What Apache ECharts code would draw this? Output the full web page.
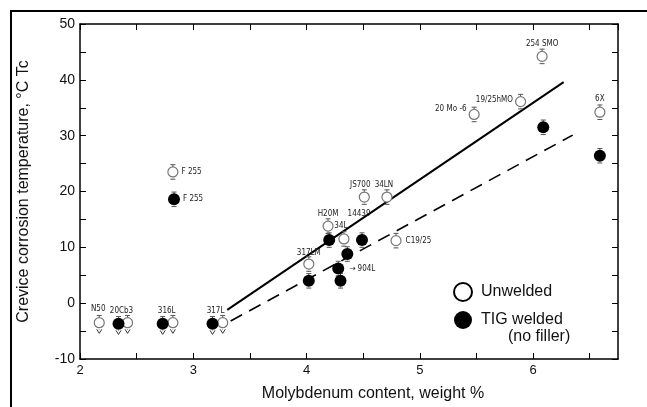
<!DOCTYPE html>
<html>
<head>
<meta charset="utf-8">
<script src="https://cdn.jsdelivr.net/npm/echarts@6/dist/echarts.min.js"></script>
<style>html,body{margin:0;padding:0;background:#fff}#c{width:647px;height:407px}</style>
</head>
<body>
<div id="c"></div>
<script>
// ---- data ----
const openNames = ['N50','20Cb3','316L','317L','F 255','317LM','H20M','34L','JS700','34LN','C19/25','20 Mo -6','19/25hMO','254 SMO','6X'];
const openMo    = [2.17, 2.42, 2.82, 3.26, 2.82, 4.02, 4.19, 4.33, 4.51, 4.71, 4.79, 5.48, 5.89, 6.08, 6.59];
const openTc    = [-3.5, -3.5, -3.5, -3.5, 23.5, 7.0, 13.8, 11.5, 19.0, 19.0, 11.2, 33.8, 36.1, 44.2, 34.2];

const tigNames = ['20Cb3','316L','317L','F 255','317LM','H20M','904L','','34L','14439','254 SMO','6X'];
const tigMo    = [2.34, 2.73, 3.17, 2.83, 4.02, 4.20, 4.28, 4.30, 4.36, 4.49, 6.09, 6.59];
const tigTc    = [-3.7, -3.7, -3.7, 18.6, 4.0, 11.3, 6.2, 4.0, 8.8, 11.3, 31.5, 26.4];

const unweldedLineMo = [3.30, 6.27];
const unweldedLineTc = [-1.2, 39.6];
const tigLineMo = [3.33, 6.35];
const tigLineTc = [-3.2, 30.1];

const errHalf = 1.3;
const xTickLabels = [2, 3, 4, 5, 6];
const yTickLabels = [-10, 0, 10, 20, 30, 40, 50];

// ---- label placement (styling) ----
const openLabelCfg = {
  'N50': {position:'top', distance:4, offset:[-1,0]},
  'F 255': {position:'right', distance:3},
  '317LM': {position:'top', distance:2},
  'H20M': {position:'top', distance:3},
  '34L': {position:'top', distance:3, offset:[-3,0]},
  'JS700': {position:'top', distance:3, offset:[-4,0]},
  '34LN': {position:'top', distance:3, offset:[-3,0]},
  'C19/25': {position:'right', distance:4},
  '20 Mo -6': {position:'left', distance:2, offset:[0,-6]},
  '19/25hMO': {position:'left', distance:2, offset:[0,-2]},
  '254 SMO': {position:'top', distance:3},
  '6X': {position:'top', distance:4}
};
const tigLabelCfg = {
  '20Cb3': {position:'top', distance:3, offset:[3,0]},
  '316L': {position:'top', distance:3, offset:[4,0]},
  '317L': {position:'top', distance:3, offset:[3,0]},
  'F 255': {position:'right', distance:3},
  '14439': {position:'top', distance:16, offset:[-3,0]},
  '904L': {position:'right', distance:5, text:'\u2192 904L'}
};
const FONT = 'Liberation Sans, Arial, sans-serif';
const NARROW = 'Liberation Sans Narrow, DejaVu Sans Condensed, Liberation Sans, sans-serif';

function mkData(names, xs, ys, cfg) {
  return names.map((n, i) => {
    const c = cfg[n];
    const item = {name: n, value: [xs[i], ys[i]]};
    if (c) {
      item.label = {show: true, position: c.position, distance: c.distance, offset: c.offset || [0,0],
        formatter: c.text || n, fontSize: 8, color: '#222', fontFamily: NARROW};
    }
    return item;
  });
}

const errData = openMo.map((x,i)=>[x, openTc[i]]).concat(tigMo.map((x,i)=>[x, tigTc[i]]));

function renderErr(params, api) {
  const x = api.value(0), y = api.value(1);
  const top = api.coord([x, y + errHalf]);
  const bot = api.coord([x, y - errHalf]);
  const st = {stroke: '#555', lineWidth: 1, lineDash: [2, 1.5]};
  const children = [
    {type:'line', shape:{x1:top[0], y1:top[1], x2:bot[0], y2:bot[1]}, style: st},
    {type:'line', shape:{x1:top[0]-2.5, y1:top[1], x2:top[0]+2.5, y2:top[1]}, style:{stroke:'#555', lineWidth:1}}
  ];
  if (y < 0) {
    const tip = api.coord([x, y - errHalf - 0.6]);
    children.push({type:'polyline', shape:{points:[[tip[0]-2.5, tip[1]-4],[tip[0], tip[1]],[tip[0]+2.5, tip[1]-4]]}, style:{stroke:'#333', lineWidth:1, fill:null}});
  } else {
    children.push({type:'line', shape:{x1:bot[0]-2.5, y1:bot[1], x2:bot[0]+2.5, y2:bot[1]}, style:{stroke:'#555', lineWidth:1}});
  }
  return {type:'group', children};
}

const axisLineStyle = {onZero: false, lineStyle: {color: '#000', width: 1.5}};
const tickStyle = {show: true, inside: true, length: 6, lineStyle: {color: '#000', width: 1}};

const chart = echarts.init(document.getElementById('c'), null, {renderer: 'canvas'});
chart.setOption({
  animation: false,
  backgroundColor: '#fff',
  textStyle: {fontFamily: FONT},
  grid: {left: 80, right: 29, top: 24, bottom: 42, containLabel: false},
  xAxis: [
    {type:'value', min:2, max:6.75, interval:0.5, position:'bottom',
     axisLine: axisLineStyle, axisTick: tickStyle, splitLine:{show:false},
     axisLabel: {fontSize: 13, color:'#111', margin: 5, fontFamily: FONT, showMaxLabel: false,
       formatter: v => xTickLabels.indexOf(v) >= 0 ? String(v) : ''},
     name: 'Molybdenum content, weight %', nameLocation: 'middle', nameGap: 27,
     nameTextStyle: {fontSize: 16, color:'#111', fontFamily: FONT, padding:[0,0,0,48]}},
    {type:'value', min:2, max:6.75, interval:0.5, position:'top',
     axisLine: axisLineStyle, axisTick: tickStyle, splitLine:{show:false}, axisLabel:{show:false}}
  ],
  yAxis: [
    {type:'value', min:-10, max:50, interval:5, position:'left',
     axisLine: axisLineStyle, axisTick: tickStyle, splitLine:{show:false},
     axisLabel: {fontSize: 14, color:'#111', margin: 5, fontFamily: FONT,
       formatter: v => yTickLabels.indexOf(v) >= 0 ? String(v) : ''},
     name: 'Crevice corrosion temperature, \u00B0C Tc', nameLocation: 'middle', nameGap: 48,
     nameTextStyle: {fontSize: 16, color:'#111', fontFamily: FONT}},
    {type:'value', min:-10, max:50, interval:5, position:'right',
     axisLine: axisLineStyle, axisTick: tickStyle, splitLine:{show:false}, axisLabel:{show:false}}
  ],
  legend: {
    orient: 'vertical', left: 453, top: 282, padding: 0, itemWidth: 18, itemHeight: 18, itemGap: 9,
    textStyle: {fontSize: 16, color: '#111', fontFamily: FONT, padding:[0,0,0,4]},
    data: [
      {name: 'Unwelded', icon: 'circle', itemStyle: {color:'#fff', borderColor:'#000', borderWidth: 2, opacity: 1}},
      {name: 'TIG welded', icon: 'circle', itemStyle: {color:'#000', borderWidth: 0, opacity: 1}}
    ]
  },
  graphic: [
    {type:'polyline', shape:{points:[[11,407],[11,11],[647,11]]}, style:{stroke:'#000', lineWidth:2, fill:null}, silent:true},
    {type:'text', left: 508, top: 329, style:{text:'(no filler)', fontSize:16, fill:'#111', fontFamily: FONT}}
  ],
  series: [
    {type:'line', name:'Unwelded fit', data: unweldedLineMo.map((x,i)=>[x, unweldedLineTc[i]]),
     showSymbol:false, lineStyle:{color:'#000', width:2}, z:2},
    {type:'line', name:'TIG fit', data: tigLineMo.map((x,i)=>[x, tigLineTc[i]]),
     showSymbol:false, lineStyle:{color:'#000', width:1.6, type:[13,8]}, z:2},
    {type:'custom', name:'err', data: errData, renderItem: renderErr, z:3, silent:true},
    {type:'scatter', name:'Unwelded', data: mkData(openNames, openMo, openTc, openLabelCfg),
     symbol:'circle', symbolSize: 10,
     itemStyle:{color:'#fff', borderColor:'#777', borderWidth:1.2, opacity:1}, z:4},
    {type:'scatter', name:'TIG welded', data: mkData(tigNames, tigMo, tigTc, tigLabelCfg),
     symbol:'circle', symbolSize: 12,
     itemStyle:{color:'#000', opacity:1}, z:5}
  ]
});
</script>
</body>
</html>
